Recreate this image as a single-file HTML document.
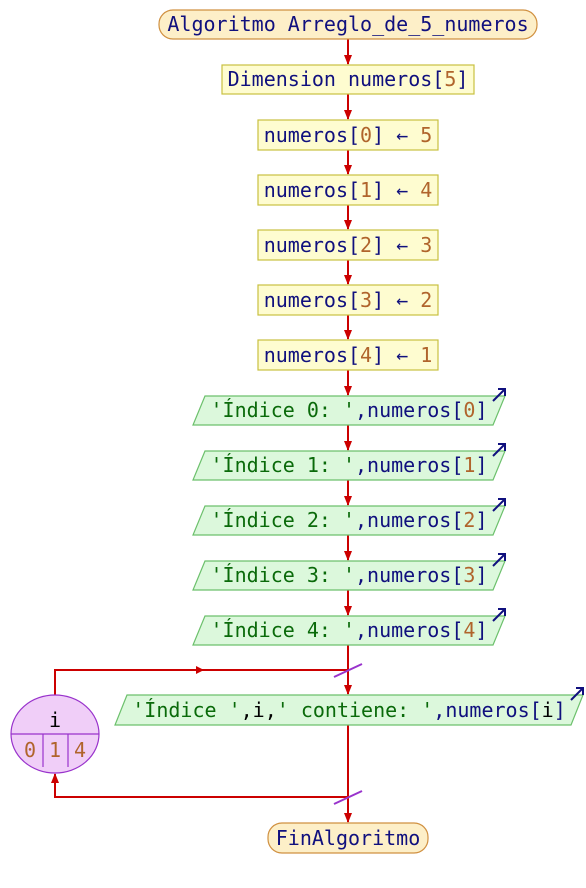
<!DOCTYPE html>
<html><head><meta charset="utf-8"><style>
html,body{margin:0;padding:0;background:#fff;width:586px;height:888px;overflow:hidden}
text{font-family:"DejaVu Sans Mono","Liberation Mono",monospace;font-size:20px}
.n{fill:#10107e}.b{fill:#b0642c}.g{fill:#0a6a0a}.k{fill:#000}
</style></head><body>
<svg width="586" height="888" viewBox="0 0 586 888" xmlns="http://www.w3.org/2000/svg">
<defs>
<marker id="ar" markerWidth="10" markerHeight="8" refX="9" refY="4" orient="auto" markerUnits="userSpaceOnUse"><path d="M0,0 L10,4 L0,8 z" fill="#cc0000"/></marker>
</defs>
<g stroke="#cc0000" stroke-width="2" fill="none">
<line x1="348" y1="39" x2="348" y2="64" marker-end="url(#ar)"/>
<line x1="348" y1="94" x2="348" y2="119" marker-end="url(#ar)"/>
<line x1="348" y1="150" x2="348" y2="174" marker-end="url(#ar)"/>
<line x1="348" y1="205" x2="348" y2="229" marker-end="url(#ar)"/>
<line x1="348" y1="260" x2="348" y2="284" marker-end="url(#ar)"/>
<line x1="348" y1="315" x2="348" y2="339" marker-end="url(#ar)"/>
<line x1="348" y1="370" x2="348" y2="395" marker-end="url(#ar)"/>
<line x1="348" y1="425" x2="348" y2="450" marker-end="url(#ar)"/>
<line x1="348" y1="480" x2="348" y2="505" marker-end="url(#ar)"/>
<line x1="348" y1="535" x2="348" y2="560" marker-end="url(#ar)"/>
<line x1="348" y1="590" x2="348" y2="615" marker-end="url(#ar)"/>
<line x1="348" y1="645" x2="348" y2="694" marker-end="url(#ar)"/>
<line x1="348" y1="725" x2="348" y2="822" marker-end="url(#ar)"/>
<polyline points="55,695 55,670 348,670"/>
<polyline points="348,797 55,797 55,774" marker-end="url(#ar)"/>
</g>
<path d="M196,666 L204,670 L196,674 z" fill="#cc0000"/>
<line x1="334" y1="677" x2="362" y2="664" stroke="#9933cc" stroke-width="2"/>
<line x1="334" y1="804" x2="362" y2="791" stroke="#9933cc" stroke-width="2"/>

<rect x="159" y="10" width="378" height="29" rx="14" fill="#fdefc8" stroke="#d09040" stroke-width="1.2"/>
<text x="348" y="31" text-anchor="middle" class="n">Algoritmo Arreglo_de_5_numeros</text>

<rect x="222" y="65" width="252" height="29" fill="#fefcd0" stroke="#c8c040" stroke-width="1.2"/>
<text x="348" y="86" text-anchor="middle"><tspan class="n">Dimension numeros[</tspan><tspan class="b">5</tspan><tspan class="n">]</tspan></text>

<g fill="#fefcd0" stroke="#c8c040" stroke-width="1.2">
<rect x="258" y="120" width="180" height="30"/>
<rect x="258" y="175" width="180" height="30"/>
<rect x="258" y="230" width="180" height="30"/>
<rect x="258" y="285" width="180" height="30"/>
<rect x="258" y="340" width="180" height="30"/>
</g>
<text x="348" y="142" text-anchor="middle"><tspan class="n">numeros[</tspan><tspan class="b">0</tspan><tspan class="n">] ← </tspan><tspan class="b">5</tspan></text>
<text x="348" y="197" text-anchor="middle"><tspan class="n">numeros[</tspan><tspan class="b">1</tspan><tspan class="n">] ← </tspan><tspan class="b">4</tspan></text>
<text x="348" y="252" text-anchor="middle"><tspan class="n">numeros[</tspan><tspan class="b">2</tspan><tspan class="n">] ← </tspan><tspan class="b">3</tspan></text>
<text x="348" y="307" text-anchor="middle"><tspan class="n">numeros[</tspan><tspan class="b">3</tspan><tspan class="n">] ← </tspan><tspan class="b">2</tspan></text>
<text x="348" y="362" text-anchor="middle"><tspan class="n">numeros[</tspan><tspan class="b">4</tspan><tspan class="n">] ← </tspan><tspan class="b">1</tspan></text>

<g fill="#dcf8dc" stroke="#6cc06c" stroke-width="1.2">
<polygon points="205,396 505,396 493,425 193,425"/>
<polygon points="205,451 505,451 493,480 193,480"/>
<polygon points="205,506 505,506 493,535 193,535"/>
<polygon points="205,561 505,561 493,590 193,590"/>
<polygon points="205,616 505,616 493,645 193,645"/>
<polygon points="127,695 583,695 571,725 115,725"/>
</g>
<g stroke="#10107e" stroke-width="2" fill="none">
<path d="M493,401 L505,389 M498,389 L505,389 L505,396"/>
<path d="M493,456 L505,444 M498,444 L505,444 L505,451"/>
<path d="M493,511 L505,499 M498,499 L505,499 L505,506"/>
<path d="M493,566 L505,554 M498,554 L505,554 L505,561"/>
<path d="M493,621 L505,609 M498,609 L505,609 L505,616"/>
<path d="M571,700 L583,688 M576,688 L583,688 L583,695"/>
</g>
<text x="349" y="417" text-anchor="middle"><tspan class="g">'Índice 0: '</tspan><tspan class="n">,numeros[</tspan><tspan class="b">0</tspan><tspan class="n">]</tspan></text>
<text x="349" y="472" text-anchor="middle"><tspan class="g">'Índice 1: '</tspan><tspan class="n">,numeros[</tspan><tspan class="b">1</tspan><tspan class="n">]</tspan></text>
<text x="349" y="527" text-anchor="middle"><tspan class="g">'Índice 2: '</tspan><tspan class="n">,numeros[</tspan><tspan class="b">2</tspan><tspan class="n">]</tspan></text>
<text x="349" y="582" text-anchor="middle"><tspan class="g">'Índice 3: '</tspan><tspan class="n">,numeros[</tspan><tspan class="b">3</tspan><tspan class="n">]</tspan></text>
<text x="349" y="637" text-anchor="middle"><tspan class="g">'Índice 4: '</tspan><tspan class="n">,numeros[</tspan><tspan class="b">4</tspan><tspan class="n">]</tspan></text>
<text x="349" y="717" text-anchor="middle"><tspan class="g">'Índice '</tspan><tspan class="k">,i,</tspan><tspan class="g">' contiene: '</tspan><tspan class="n">,numeros[</tspan><tspan class="k">i</tspan><tspan class="n">]</tspan></text>

<ellipse cx="55" cy="734" rx="44" ry="39" fill="#f0cef8" stroke="#9933cc" stroke-width="1.2"/>
<line x1="11" y1="734" x2="99" y2="734" stroke="#9933cc" stroke-width="1.2"/>
<line x1="43" y1="734" x2="43" y2="767" stroke="#9933cc" stroke-width="1.2"/>
<line x1="68" y1="734" x2="68" y2="767" stroke="#9933cc" stroke-width="1.2"/>
<text x="55" y="727" text-anchor="middle" class="k">i</text>
<text x="30" y="757" text-anchor="middle" class="b">0</text>
<text x="55" y="757" text-anchor="middle" class="b">1</text>
<text x="80" y="757" text-anchor="middle" class="b">4</text>

<rect x="268" y="823" width="160" height="30" rx="14" fill="#fdefc8" stroke="#d09040" stroke-width="1.2"/>
<text x="348" y="845" text-anchor="middle" class="n">FinAlgoritmo</text>
</svg>
</body></html>
